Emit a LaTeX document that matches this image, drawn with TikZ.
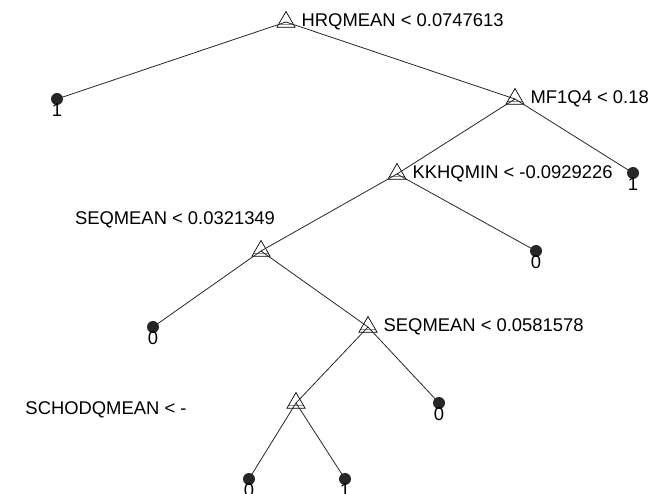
\documentclass[tikz,border=0pt]{standalone}
\usepackage{fontspec}
\setmainfont{Liberation Sans}
\usetikzlibrary{shapes.geometric}

\begin{document}
\begin{tikzpicture}[x=1pt, y=-1pt,
  split/.style={regular polygon, regular polygon sides=3, draw, line width=0.7pt,
    inner sep=0pt, minimum size=21pt,
    path picture={\draw[black!45, line width=1.2pt]
      ([yshift=2.5pt]path picture bounding box.south west) --
      ([yshift=2.5pt]path picture bounding box.south east);}},
  leaf/.style={circle, fill=black!85, inner sep=0pt, minimum size=12pt,
    label={[digit]below:#1}},
  digit/.style={inner sep=0pt, label distance=-2pt, font=\fontsize{18.4}{20}\selectfont},
  cond/.style={inner sep=0pt, font=\fontsize{18.4}{20}\selectfont},
  link/.style={line width=0.8pt, black!85}
  ]
  \useasboundingbox (0,0) rectangle (649,494);

  % splits
  \node[split, label={[cond, label distance=9pt]right:HRQMEAN < 0.0747613}] (s1) at (286,22) {};
  \node[split, label={[cond, label distance=9pt]right:MF1Q4 < 0.18}] (s2) at (515,99) {};
  \node[split, label={[cond, label distance=9pt]right:KKHQMIN < -0.0929226}] (s3) at (397,174) {};
  \node[split] (s4) at (261,251) {};
  \node[cond] (c4) at (175,220) {SEQMEAN < 0.0321349};
  \node[split, label={[cond, label distance=9pt]right:SEQMEAN < 0.0581578}] (s5) at (368,327) {};
  \node[split] (s6) at (296,403) {};
  \node[cond] (c6) at (106,410) {SCHODQMEAN < -};

  % leaves
  \node[leaf=1] (l1) at (57,99) {};
  \node[leaf=1] (l2) at (633,173) {};
  \node[leaf=0] (l3) at (536,251) {};
  \node[leaf=0] (l4) at (153,327) {};
  \node[leaf=0] (l5) at (439,403) {};
  \node[leaf=0] (l6) at (249,479) {};
  \node[leaf=1] (l7) at (345,479) {};

  \draw[link] (s1.center) -- (l1.center);
  \draw[link] (s1.center) -- (s2.center);
  \draw[link] (s2.center) -- (s3.center);
  \draw[link] (s2.center) -- (l2.center);
  \draw[link] (s3.center) -- (s4.center);
  \draw[link] (s3.center) -- (l3.center);
  \draw[link] (s4.center) -- (l4.center);
  \draw[link] (s4.center) -- (s5.center);
  \draw[link] (s5.center) -- (s6.center);
  \draw[link] (s5.center) -- (l5.center);
  \draw[link] (s6.center) -- (l6.center);
  \draw[link] (s6.center) -- (l7.center);
\end{tikzpicture}
\end{document}
